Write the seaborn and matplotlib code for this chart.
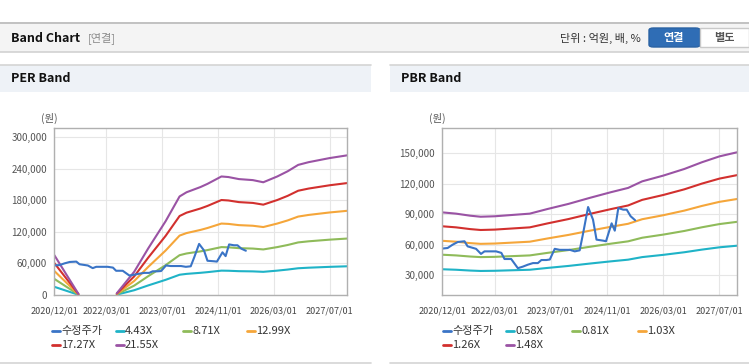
import numpy as np
import pandas as pd
import matplotlib.pyplot as plt
import seaborn as sns
from matplotlib.lines import Line2D
from matplotlib.patches import Rectangle, FancyBboxPatch

sns.set_theme(style="white")
plt.rcParams['font.family'] = ['Noto Sans CJK KR', 'DejaVu Sans']

W, H = 749, 364

# ---------------------------------------------------------------
# Data (x = months since 2020/12/01)
# ---------------------------------------------------------------
tick_labels = ["2020/12/01", "2022/03/01", "2023/07/01", "2024/11/01", "2026/03/01", "2027/07/01"]

price_month = [0, 1.6, 3, 4.5, 6.4, 7.3, 9.7, 11.1, 12.1, 15.4, 16.9, 17.8, 19.7, 21.6, 23,
               24.5, 25.9, 27.3, 28.3, 29.7, 30.7, 32.1, 33.5, 36.4, 37.8, 39.2, 40.2, 41.6,
               43, 44, 45.9, 46.7, 48.3, 49.2, 50.2, 51.6, 52.6, 53.7, 55]
price = [56200, 56800, 60000, 62700, 63400, 58400, 56000, 51000, 53500, 53500, 52000, 46000,
         46000, 37000, 38500, 40500, 42000, 42000, 45000, 45000, 45500, 56000, 55000, 55000,
         53500, 54500, 71500, 97000, 84600, 65000, 64000, 63400, 81000, 73800, 96000, 94400,
         94400, 88000, 84000]

# EPS base for PER band (NaN = loss period, not drawn)
eps_month = [0, 7, 12, 18, 23, 27, 32, 36, 38, 42, 44, 48, 50, 53, 57, 60, 64, 67, 70, 73, 79, 84]
eps = [3555, 100, np.nan, 150, 2050, 4100, 6500, 8680, 9050, 9510, 9790, 10440, 10390, 10210,
       10120, 9930, 10440, 10900, 11460, 11700, 12060, 12300]
per_multiples = [4.43, 8.71, 12.99, 17.27, 21.55]

# BPS base for PBR band
bps_month = [0, 4, 8, 11, 15, 19, 25, 30, 36, 42, 48, 53, 57, 63, 69, 74, 79, 84]
bps = [62000, 61150, 59800, 59100, 59400, 60100, 61150, 64200, 67600, 71550, 75300, 78200,
       82550, 86350, 90750, 95200, 99100, 101800]
pbr_multiples = [0.58, 0.81, 1.03, 1.26, 1.48]

price_label = "수정주가"
band_colors = ['#1fb3c7', '#8fbb5a', '#f5a63a', '#d2302e', '#9a53a4']
price_color = '#3a74c6'


def month_of(label):
    y, m, _ = label.split("/")
    return (int(y) - 2020) * 12 + int(m) - 12


tick_pos = [month_of(t) for t in tick_labels]


def band_frame(months, base, multiples):
    base = np.array(base, dtype=float)
    seg = np.cumsum(np.isnan(base))
    rows = []
    for k in multiples:
        name = f"{k:.2f}X"
        for m, b, s in zip(months, base, seg):
            if not np.isnan(b):
                rows.append({"month": m, "value": b * k, "band": name, "seg": s})
    return pd.DataFrame(rows)


price_df = pd.DataFrame({"month": price_month, "value": price})

fig = plt.figure(figsize=(W / 100, H / 100), dpi=100)
fig.patch.set_facecolor('white')


def fx(x):
    return x / W


def fy(y):
    return 1 - y / H


def rect(x0, y0, x1, y1, **kw):
    fig.add_artist(Rectangle((fx(x0), fy(y1)), (x1 - x0) / W, (y1 - y0) / H,
                             transform=fig.transFigure, **kw))


def hline(x0, x1, y, color, lw=1):
    fig.add_artist(Line2D([fx(x0), fx(x1)], [fy(y), fy(y)], transform=fig.transFigure,
                          color=color, lw=lw))


# header bar
rect(0, 22, W, 52, facecolor='#f4f4f4', edgecolor='none')
hline(0, W, 22.5, '#b8b8b8', 1.2)
hline(0, W, 52, '#d2d2d2', 1.2)
fig.text(fx(11), fy(38), "Band Chart", fontsize=9, fontweight='bold', color='#111', va='center')
fig.text(fx(88), fy(38), "[연결]", fontsize=8, color='#8a8a8a', va='center')
fig.text(fx(641), fy(38), "단위 : 억원, 배, %", fontsize=8, color='#333', va='center', ha='right')
fig.add_artist(FancyBboxPatch((fx(649), fy(47)), (700 - 649) / W, 19 / H,
                              boxstyle="round,pad=0,rounding_size=0.006",
                              transform=fig.transFigure, facecolor='#2f6db5', edgecolor='#2a62a3'))
fig.text(fx(674), fy(38), "연결", fontsize=8, fontweight='bold', color='white', ha='center', va='center')
rect(700, 28, 749, 47, facecolor='white', edgecolor='#c9c9c9', lw=1)
fig.text(fx(724), fy(38), "별도", fontsize=8, fontweight='bold', color='#555', ha='center', va='center')

# panel title strips
for x0, x1, title in [(0, 371, "PER Band"), (390, 749, "PBR Band")]:
    rect(x0, 65, x1, 92, facecolor='#eef2f7', edgecolor='none')
    hline(x0, x1, 65, '#d4d4d4', 1.2)
    hline(x0, x1, 363, '#d4d4d4', 1.2)
    fig.text(fx(x0 + 11), fy(79), title, fontsize=9, fontweight='bold', color='#111', va='center')

panels = [
    dict(left=54, right=347, ylim=(0, 317000), yticks=np.arange(0, 300001, 60000),
         bands=band_frame(eps_month, eps, per_multiples), unit_x=49, leg_x=[52, 116, 183, 247]),
    dict(left=442, right=737, ylim=(10700, 174500), yticks=np.arange(30000, 150001, 30000),
         bands=band_frame(bps_month, bps, pbr_multiples), unit_x=437, leg_x=[443, 506, 572, 638]),
]

top, bottom = 128, 295
for p in panels:
    ax = fig.add_axes([fx(p['left']), fy(bottom), (p['right'] - p['left']) / W, (bottom - top) / H])
    ax.set_facecolor('white')
    names = list(p['bands']['band'].unique())
    sns.lineplot(data=p['bands'], x='month', y='value', hue='band', units='seg', estimator=None,
                 palette=dict(zip(names, band_colors)), linewidth=1.5, legend=False, ax=ax)
    sns.lineplot(data=price_df, x='month', y='value', color=price_color, linewidth=1.5,
                 estimator=None, ax=ax)
    ax.set_xlim(0, 84)
    ax.set_ylim(*p['ylim'])
    ax.set_xticks(tick_pos)
    ax.set_xticklabels(tick_labels)
    ax.set_yticks(p['yticks'])
    ax.set_yticklabels([f"{v:,}" for v in p['yticks']])
    ax.grid(True, color='#e6e6e6', lw=0.8)
    ax.set_xlabel("")
    ax.set_ylabel("")
    for s in ax.spines.values():
        s.set_color('#b0b0b0')
        s.set_linewidth(1)
    ax.tick_params(axis='x', length=3, width=0.8, color='#b0b0b0', pad=5, labelsize=6.5, labelcolor='#444')
    ax.tick_params(axis='y', length=0, pad=5, labelsize=7, labelcolor='#555')
    ax.set_axisbelow(True)
    fig.text(fx(p['unit_x']), fy(118), "(원)", fontsize=7.5, color='#555', ha='center', va='center')

    # legend
    labels = [price_label] + names
    colors = [price_color] + band_colors
    for i, (lab, col) in enumerate(zip(labels, colors)):
        x = p['leg_x'][i % 4]
        y = 331 + (i // 4) * 13.5
        fig.add_artist(Line2D([fx(x), fx(x + 8)], [fy(y), fy(y)], transform=fig.transFigure,
                              color=col, lw=2))
        fig.text(fx(x + 9), fy(y), lab, fontsize=8, color='#333', va='center')

fig.savefig("out.png", dpi=100)
